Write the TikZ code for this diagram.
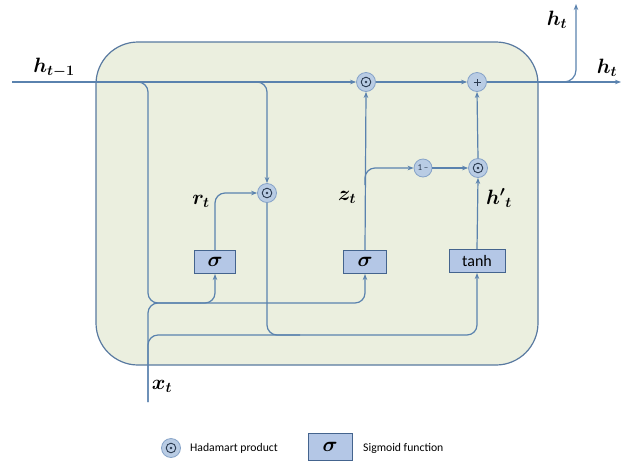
\documentclass[tikz,border=0pt]{standalone}
\usepackage{amsmath,bm}
\usepackage{fontspec}
\setsansfont{Carlito}
\usetikzlibrary{arrows.meta}
\definecolor{linec}{HTML}{5A82AE}
\definecolor{cellfill}{HTML}{EBEFDF}
\definecolor{cellline}{HTML}{5879A0}
\definecolor{circfill}{HTML}{B9CCE4}
\definecolor{circdraw}{HTML}{86A3C8}
\definecolor{boxfill}{HTML}{B4C7E6}
\definecolor{boxdraw}{HTML}{44648E}
\definecolor{symc}{HTML}{2A3A50}
\begin{document}
\begin{tikzpicture}[x=1pt,y=-1pt,
  wire/.style={draw=linec, line width=1.2pt},
  arr/.style={-{Stealth[length=6pt,width=4.5pt]}},
  opc/.style={circle, fill=circfill, draw=circdraw, line width=0.8pt, minimum size=19pt, inner sep=0pt, text=symc},
  hada/.style={opc, path picture={
      \draw[symc, line width=0.9pt] (path picture bounding box.center) circle (4.8pt);
      \fill[symc] (path picture bounding box.center) circle (1.4pt);}},
  plusc/.style={opc, path picture={
      \draw[symc, line width=0.9pt] ([xshift=-3.5pt]path picture bounding box.center) -- ([xshift=3.5pt]path picture bounding box.center)
        ([yshift=-3.5pt]path picture bounding box.center) -- ([yshift=3.5pt]path picture bounding box.center);}},
  gatebox/.style={rectangle, fill=boxfill, draw=boxdraw, line width=1pt, minimum height=23pt, inner sep=0pt},
  lbl/.style={font=\fontsize{21}{23}\selectfont, inner sep=0pt},
  sig/.style={font=\fontsize{20}{22}\selectfont},
  legtext/.style={font=\sffamily\fontsize{11.7}{13}\selectfont, anchor=west, inner sep=0pt}
]
\useasboundingbox (0,0) rectangle (623,464);
% cell
\draw[fill=cellfill, draw=cellline, line width=1.2pt, rounded corners=42pt] (96,42) rectangle (538,365);

% nodes
\node[hada] (odot1) at (366,82) {};
\node[plusc] (plus) at (477,82) {};
\node[hada] (odotr) at (267,193) {};
\node[opc, minimum size=18pt, font=\sffamily\fontsize{9}{9}\selectfont] (onem) at (423,168) {1\,–};
\node[hada] (odot2) at (478,168) {};
\node[gatebox, minimum width=41pt, sig] (sig1) at (215,262) {$\bm{\sigma}$};
\node[gatebox, minimum width=43pt, sig] (sig2) at (365,262) {$\bm{\sigma}$};
\node[gatebox, minimum width=56pt, font=\sffamily\fontsize{16}{16}\selectfont] (tanhb) at (477,261) {tanh};

\coordinate (hin) at (12,82);
\coordinate (hout) at (621,82);
\coordinate (htop) at (576,4);
\coordinate (xin) at (148,402);
\coordinate (brA) at (130,82);
\coordinate (brB) at (245,82);
\coordinate (joinA) at (200,303);
\coordinate (lowY) at (477,335);
\coordinate (rjoin) at (300,335);
\coordinate (zbr) at (365,185);
\coordinate (upbr) at (560,82);

% main line
\draw[wire, arr] (hin) -- (odot1);
\draw[wire, arr] (odot1) -- (plus);
\draw[wire, arr] (plus) -- (hout);
\draw[wire, arr, rounded corners=12pt] (upbr) -| (htop);

% branches of h_{t-1}
\draw[wire, arr, rounded corners=10pt] (brA) -| (148,303) -| (sig2.south);
\draw[wire, arr, rounded corners=10pt] (joinA) -| (sig1.south);
\draw[wire, arr, rounded corners=10pt] (brB) -| (odotr.north);
\draw[wire, rounded corners=10pt] (odotr.south) |- (rjoin);

% x_t
\draw[wire, rounded corners=10pt] (xin) |- (joinA);
\draw[wire, arr, rounded corners=10pt] (xin) |- (lowY) -- (tanhb.south);

% gates
\draw[wire, arr, rounded corners=10pt] (sig1.north) |- (odotr.west);
\draw[wire, arr] (sig2.north) -- (odot1.south);
\draw[wire, arr, rounded corners=10pt] (zbr) |- (onem.west);
\draw[wire, arr] (onem.east) -- (odot2.west);
\draw[wire, arr] (tanhb.north) -- (odot2.south);
\draw[wire, arr] (odot2.north) -- (plus.south);

% labels
\node[lbl] (lh1) at (54,68) {$\bm{h_{t-1}}$};
\node[lbl] (lh2) at (607,68) {$\bm{h_t}$};
\node[lbl] (lh3) at (557,20) {$\bm{h_t}$};
\node[lbl] (lr) at (201,201) {$\bm{r_t}$};
\node[lbl] (lz) at (347,197) {$\bm{z_t}$};
\node[lbl] (lhp) at (499,198) {$\bm{h'{}_t}$};
\node[lbl] (lx) at (162,386) {$\bm{x_t}$};

% legend
\node[hada] (legc) at (171,448) {};
\node[legtext] (legt1) at (190,448) {Hadamart product};
\node[gatebox, minimum width=44pt, minimum height=27pt, sig] (legb) at (330,447) {$\bm{\sigma}$};
\node[legtext] (legt2) at (363,448) {Sigmoid function};
\end{tikzpicture}
\end{document}
